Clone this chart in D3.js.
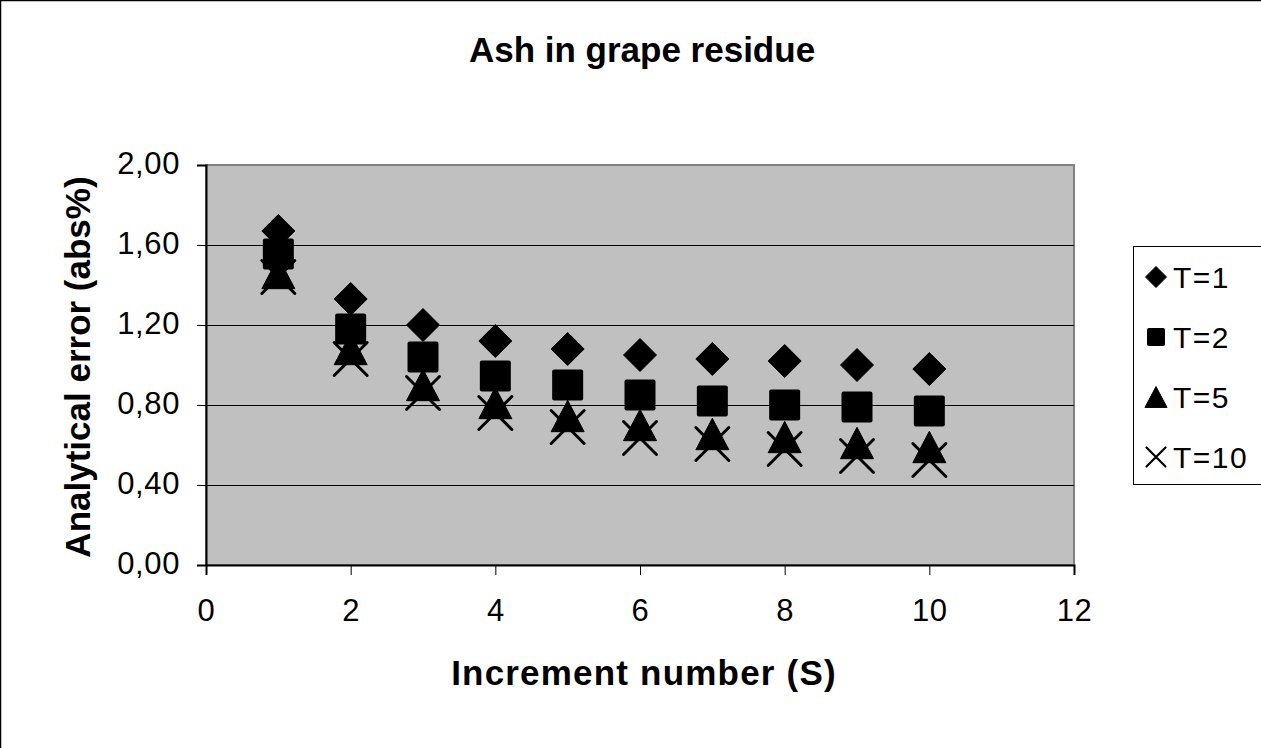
<!DOCTYPE html>
<html>
<head>
<meta charset="utf-8">
<script src="https://cdn.jsdelivr.net/npm/d3@7"></script>
<style>
  html, body { margin: 0; padding: 0; background: #fff; }
  svg { display: block; font-family: "Liberation Sans", Arial, sans-serif; }
</style>
</head>
<body>
<svg id="chart" width="1261" height="748"></svg>
<script>
// Increment numbers (S)
const increments = [1, 2, 3, 4, 5, 6, 7, 8, 9, 10];
// Analytical error (abs%) for each number of tests T
const seriesT1  = [1.67, 1.33, 1.20, 1.12, 1.08, 1.05, 1.03, 1.02, 1.00, 0.98];
const seriesT2  = [1.555, 1.18, 1.04, 0.945, 0.90, 0.85, 0.82, 0.80, 0.79, 0.77];
const seriesT5  = [1.46, 1.08, 0.90, 0.81, 0.745, 0.70, 0.655, 0.64, 0.61, 0.59];
const seriesT10 = [1.44, 1.03, 0.86, 0.76, 0.69, 0.635, 0.605, 0.58, 0.545, 0.525];
const seriesNames = ["T=1", "T=2", "T=5", "T=10"];
const markerKinds = ["diamond", "square", "triangle", "cross"];
const xTicks = [0, 2, 4, 6, 8, 10, 12];
const yTicks = [0, 0.4, 0.8, 1.2, 1.6, 2.0];

const series = [seriesT1, seriesT2, seriesT5, seriesT10].map((vals, i) => ({
  name: seriesNames[i],
  kind: markerKinds[i],
  points: vals.map((v, j) => ({ x: increments[j], y: v }))
}));

const svg = d3.select("#chart");
const plot = { left: 206, right: 1074, top: 165, bottom: 565 };

const x = d3.scaleLinear().domain([0, 12]).range([plot.left, plot.right]);
const y = d3.scaleLinear().domain([0, 2]).range([plot.bottom, plot.top]);
const fmt = v => d3.format(".2f")(v).replace(".", ",");

// outer chart frame
svg.append("rect")
  .attr("x", 0.5).attr("y", 0.5).attr("width", 1300).attr("height", 800)
  .attr("fill", "#fff").attr("stroke", "#000").attr("stroke-width", 1.5);

// plot area
svg.append("rect")
  .attr("x", plot.left).attr("y", plot.top)
  .attr("width", plot.right - plot.left).attr("height", plot.bottom - plot.top)
  .attr("fill", "#c0c0c0").attr("stroke", "#808080").attr("stroke-width", 2);

// horizontal gridlines
svg.append("g").selectAll("line")
  .data(yTicks.filter(t => t > 0 && t < 2))
  .join("line")
  .attr("x1", plot.left).attr("x2", plot.right)
  .attr("y1", d => Math.round(y(d)) + 0.5).attr("y2", d => Math.round(y(d)) + 0.5)
  .attr("stroke", "#000").attr("stroke-width", 1);

// axes
const yAxis = d3.axisLeft(y).tickValues(yTicks).tickFormat(fmt).tickSize(9).tickPadding(17);
const xAxis = d3.axisBottom(x).tickValues(xTicks).tickFormat(d3.format("d")).tickSize(10).tickPadding(24);

const gy = svg.append("g").attr("transform", `translate(${plot.left},0)`).call(yAxis);
const gx = svg.append("g").attr("transform", `translate(0,${plot.bottom})`).call(xAxis);

[gy, gx].forEach(g => {
  g.select(".domain").attr("stroke", "#000").attr("stroke-width", 2);
  g.selectAll(".tick line").attr("stroke", "#000").attr("stroke-width", 1);
  g.selectAll(".tick text")
    .attr("fill", "#000")
    .style("font-size", "31px")
    .style("letter-spacing", "0.6px")
    .style("font-family", '"Liberation Sans", Arial, sans-serif');
});
gy.selectAll(".tick text").attr("dy", "0.26em");

// marker shapes
function markerPath(kind, s) {
  const h = s / 2;
  if (kind === "diamond") return `M0,${-h}L${h},0L0,${h}L${-h},0Z`;
  if (kind === "triangle") return `M0,${-h * 0.95}L${h},${h * 0.95}L${-h},${h * 0.95}Z`;
  if (kind === "cross") return `M${-h},${-h}L${h},${h}M${h},${-h}L${-h},${h}`;
  return null;
}

function drawMarker(g, kind, s) {
  if (kind === "square") {
    g.append("rect")
      .attr("x", -s / 2).attr("y", -s / 2).attr("width", s).attr("height", s)
      .attr("rx", 2).attr("fill", "#000");
  } else if (kind === "cross") {
    g.append("path").attr("d", markerPath(kind, s))
      .attr("fill", "none").attr("stroke", "#000")
      .attr("stroke-width", s > 25 ? 3 : 2.2).attr("stroke-linecap", "round");
  } else {
    g.append("path").attr("d", markerPath(kind, s)).attr("fill", "#000")
      .attr("stroke", "#000").attr("stroke-width", 1).attr("stroke-linejoin", "round");
  }
}

const markerSize = { diamond: 33, square: 31, triangle: 33, cross: 33 };
const legendSize = { diamond: 21, square: 18, triangle: 22, cross: 19 };

// data points
series.forEach(s => {
  svg.append("g").selectAll("g")
    .data(s.points)
    .join("g")
    .attr("transform", d => `translate(${x(d.x)},${y(d.y)})`)
    .each(function () { drawMarker(d3.select(this), s.kind, markerSize[s.kind]); });
});

// title
svg.append("text")
  .attr("x", 642).attr("y", 62)
  .attr("text-anchor", "middle")
  .style("font-size", "35px").style("font-weight", "bold")
  .text("Ash in grape residue");

// axis titles
svg.append("text")
  .attr("x", 644).attr("y", 685)
  .attr("text-anchor", "middle")
  .style("font-size", "35px").style("font-weight", "bold").style("letter-spacing", "1.2px")
  .text("Increment number (S)");

svg.append("text")
  .attr("transform", "translate(90,367) rotate(-90)")
  .attr("text-anchor", "middle")
  .style("font-size", "35px").style("font-weight", "bold")
  .text("Analytical error (abs%)");

// legend
const legend = svg.append("g");
legend.append("rect")
  .attr("x", 1133.5).attr("y", 246.5).attr("width", 200).attr("height", 238)
  .attr("fill", "#fff").attr("stroke", "#000").attr("stroke-width", 1);

const legendY = d3.scalePoint().domain(seriesNames).range([277, 457]);
const items = legend.selectAll("g.item")
  .data(series)
  .join("g")
  .attr("class", "item")
  .attr("transform", d => `translate(1156,${legendY(d.name)})`);
items.each(function (d) { drawMarker(d3.select(this), d.kind, legendSize[d.kind]); });
items.append("text")
  .attr("x", 17).attr("y", 11)
  .style("font-size", "30px").style("letter-spacing", "1.5px")
  .text(d => d.name);
</script>
</body>
</html>
